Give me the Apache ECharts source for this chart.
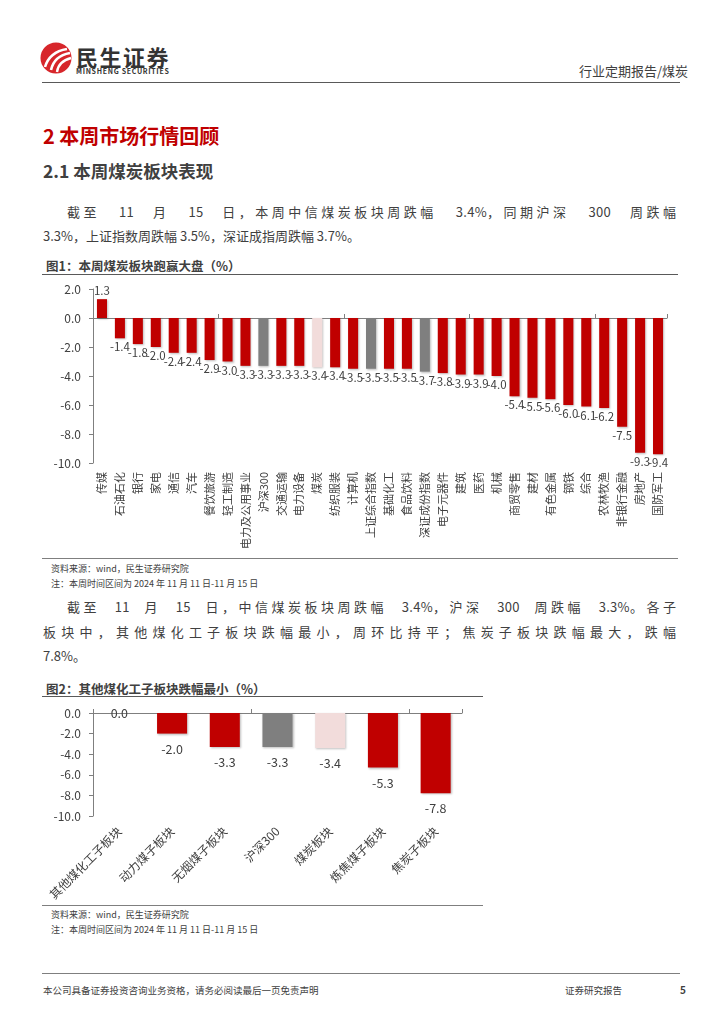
<!DOCTYPE html>
<html>
<head>
<meta charset="utf-8">
<script src="https://cdn.jsdelivr.net/npm/echarts@6/dist/echarts.min.js"></script>
<style>
  html, body { margin:0; padding:0; background:#fff; }
  body { width:724px; height:1024px; position:relative; overflow:hidden;
         font-family:"Noto Sans CJK SC","Noto Sans",sans-serif; color:#404040; }
  .abs { position:absolute; white-space:nowrap; }
  .line { position:absolute; height:0; }
  .para { position:absolute; left:43px; width:633px; font-size:13px; line-height:24px;
          text-align:justify; text-align-last:justify; white-space:nowrap; }
  .flexline { position:absolute; left:67px; width:609px; font-size:13px; line-height:24px;
          display:flex; justify-content:space-between; white-space:nowrap; letter-spacing:3.5px; }
  .flexline > span:last-child { margin-right:-3.5px; }
  .n { letter-spacing:0.3px; }
  .src { position:absolute; left:51px; font-size:9px; color:#404040; }
</style>
</head>
<body>
<!-- header logo -->
<svg class="abs" style="left:40px;top:41px" width="34" height="34" viewBox="0 0 34 34">
  <circle cx="16" cy="17" r="15.5" fill="#d7262b"/>
  <path d="M5 26 C8 16 15 10 27 8" stroke="#fff" stroke-width="2.6" fill="none"/>
  <path d="M11 29 C13 20 19 14 30 12" stroke="#fff" stroke-width="2.6" fill="none"/>
  <path d="M17 31 C18 24 23 19 31 17" stroke="#fff" stroke-width="2.4" fill="none"/>
</svg>
<div class="abs" style="left:76px;top:40px;font-size:22px;font-weight:bold;color:#333;letter-spacing:1.5px;">民生证券</div>
<div class="abs" style="left:76px;top:66px;font-size:7px;font-weight:bold;color:#333;letter-spacing:0.7px;">MINSHENG SECURITIES</div>
<div class="abs" style="left:579px;top:61px;font-size:13px;color:#404040;">行业定期报告/煤炭</div>
<div class="line" style="left:42px;top:82px;width:638px;border-top:1px solid #595959;"></div>

<div class="abs" style="left:43px;top:121px;font-size:20px;font-weight:bold;color:#c00000;">2 本周市场行情回顾</div>
<div class="abs" style="left:43px;top:158px;font-size:17.5px;font-weight:bold;color:#404040;">2.1 本周煤炭板块表现</div>

<div class="flexline" style="top:200px;"><span>截至</span><span class="n">11</span><span>月</span><span class="n">15</span><span>日，本周中信煤炭板块周跌幅</span><span><span class="n">3.4%</span>，同期沪深</span><span class="n">300</span><span>周跌幅</span></div>
<div class="para" style="top:224px;text-align-last:left;">3.3%，上证指数周跌幅 3.5%，深证成指周跌幅 3.7%。</div>

<div class="abs" style="left:46px;top:256px;font-size:12.5px;font-weight:bold;color:#404040;">图1：本周煤炭板块跑赢大盘（%）</div>
<div class="line" style="left:42px;top:274px;width:636px;border-top:1.5px solid #595959;"></div>

<div id="c1" class="abs" style="left:40px;top:278px;width:640px;height:278px;"></div>

<div class="line" style="left:42px;top:558px;width:636px;border-top:1px solid #7f7f7f;"></div>
<div class="src" style="top:562px;">资料来源：wind，民生证券研究院</div>
<div class="src" style="top:577px;">注：本周时间区间为 2024 年 11 月 11 日-11 月 15 日</div>

<div class="flexline" style="top:595px;"><span>截至</span><span class="n">11</span><span>月</span><span class="n">15</span><span>日，中信煤炭板块周跌幅</span><span><span class="n">3.4%</span>，沪深</span><span class="n">300</span><span>周跌幅</span><span><span class="n">3.3%</span>。各子</span></div>
<div class="para" style="top:620px;">板块中，其他煤化工子板块跌幅最小，周环比持平；焦炭子板块跌幅最大，跌幅</div>
<div class="para" style="top:644px;text-align-last:left;">7.8%。</div>

<div class="abs" style="left:46px;top:679px;font-size:12.5px;font-weight:bold;color:#404040;">图2：其他煤化工子板块跌幅最小（%）</div>
<div class="line" style="left:42px;top:696px;width:441px;border-top:1.5px solid #595959;"></div>

<div id="c2" class="abs" style="left:40px;top:700px;width:440px;height:204px;"></div>

<div class="line" style="left:42px;top:905px;width:441px;border-top:1px solid #7f7f7f;"></div>
<div class="src" style="top:908px;">资料来源：wind，民生证券研究院</div>
<div class="src" style="top:923px;">注：本周时间区间为 2024 年 11 月 11 日-11 月 15 日</div>

<div class="line" style="left:42px;top:973px;width:638px;border-top:1px solid #7f7f7f;"></div>
<div class="abs" style="left:43px;top:983px;font-size:9.5px;color:#404040;">本公司具备证券投资咨询业务资格，请务必阅读最后一页免责声明</div>
<div class="abs" style="left:565px;top:983px;font-size:9.5px;color:#404040;">证券研究报告</div>
<div class="abs" style="left:680px;top:982px;font-size:10px;font-weight:bold;color:#404040;">5</div>

<script>
// ---- Figure 1 data ----
const sectors1 = ['传媒','石油石化','银行','家电','通信','汽车','餐饮旅游','轻工制造','电力及公用事业','沪深300','交通运输','电力设备','煤炭','纺织服装','计算机','上证综合指数','基础化工','食品饮料','深证成份指数','电子元器件','建筑','医药','机械','商贸零售','建材','有色金属','钢铁','综合','农林牧渔','非银行金融','房地产','国防军工'];
const returns1 = [1.3,-1.4,-1.8,-2.0,-2.4,-2.4,-2.9,-3.0,-3.3,-3.3,-3.3,-3.3,-3.4,-3.4,-3.5,-3.5,-3.5,-3.5,-3.7,-3.8,-3.9,-3.9,-4.0,-5.4,-5.5,-5.6,-6.0,-6.1,-6.2,-7.5,-9.3,-9.4];
const yTicks1 = { min: -10, max: 2, step: 2 };

// ---- Figure 2 data ----
const sectors2 = ['其他煤化工子板块','动力煤子板块','无烟煤子板块','沪深300','煤炭板块','炼焦煤子板块','焦炭子板块'];
const returns2 = [0.0,-2.0,-3.3,-3.3,-3.4,-5.3,-7.8];
const yTicks2 = { min: -10, max: 0, step: 2 };

// category groups (for colouring)
const indexNames = ['沪深300','上证综合指数','深证成份指数'];
const coalNames = ['煤炭','煤炭板块'];

const FONT = '"Noto Sans CJK SC","Noto Sans",sans-serif';
const RED = '#c00000', GRAY = '#7f7f7f', PINK = '#f2dcdb', TXT = '#404040', AX = '#7f7f7f';
function colorOf(name){
  if (indexNames.includes(name)) return GRAY;
  if (coalNames.includes(name)) return PINK;
  return RED;
}

function buildOption(cats, vals, ticks, cfg){
  const data = vals.map((v,i)=>{
    let pos = v > 0 ? 'top' : (v === 0 ? 'inside' : 'bottom');
    return {
      value: v,
      itemStyle: { color: colorOf(cats[i]) },
      label: { position: pos }
    };
  });
  return {
    animation: false,
    textStyle: { fontFamily: FONT },
    grid: cfg.grid,
    xAxis: [
      { type:'category', data: cats, position:'bottom',
        axisLine:{ show:false, onZero:false }, axisTick:{ show:false },
        axisLabel:{ interval:0, rotate: cfg.rotate, color: TXT, fontSize: cfg.xFont, margin: cfg.xMargin, fontFamily: FONT } },
      { type:'category', data: cats, position:'top',
        axisLine:{ show:true, onZero:true, lineStyle:{ color: AX, width:1 } },
        axisTick:{ show:true, length:4, lineStyle:{ color: AX } },
        axisLabel:{ show:false } }
    ],
    yAxis: {
      type:'value', min: ticks.min, max: ticks.max, interval: ticks.step,
      axisLine:{ show:true, lineStyle:{ color: AX } },
      axisTick:{ show:true, length:4, lineStyle:{ color: AX } },
      splitLine:{ show:false },
      axisLabel:{ color: TXT, fontSize: 12, margin: 12, fontFamily: FONT, formatter: v => v.toFixed(1) }
    },
    series: [{
      type:'bar', xAxisIndex:0, data, barWidth: cfg.barWidth,
      itemStyle:{ shadowColor:'rgba(0,0,0,0.25)', shadowBlur:2, shadowOffsetX:1, shadowOffsetY:1 },
      label:{ show:true, color: TXT, fontSize: cfg.lblFont, distance: cfg.lblDist, fontFamily: FONT,
              formatter: p => p.value.toFixed(1) }
    }]
  };
}

const c1 = echarts.init(document.getElementById('c1'), null, { renderer:'canvas' });
c1.setOption(buildOption(sectors1, returns1, yTicks1, {
  grid:{ left:53, top:11, width:574, height:174 },
  rotate:90, xFont:11, xMargin:9, barWidth:'56%', lblFont:11.5, lblDist:3
}));

const c2 = echarts.init(document.getElementById('c2'), null, { renderer:'canvas' });
c2.setOption(buildOption(sectors2, returns2, yTicks2, {
  grid:{ left:53, top:13, width:369, height:103 },
  rotate:45, xFont:12, xMargin:13, barWidth:'57%', lblFont:12.5, lblDist:9
}));
</script>
</body>
</html>
